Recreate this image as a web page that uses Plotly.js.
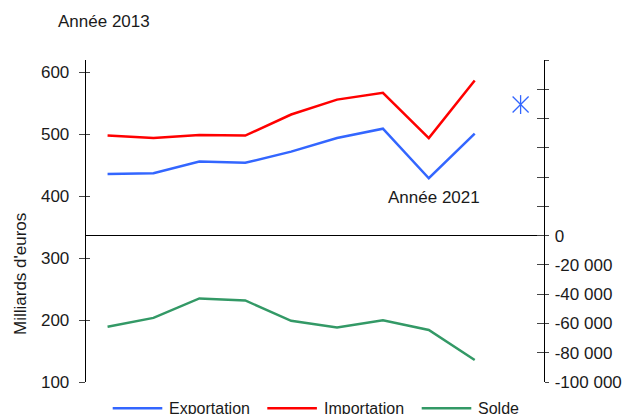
<!DOCTYPE html>
<html>
<head>
<meta charset="utf-8">
<script src="https://cdn.plot.ly/plotly-3.0.1.min.js"></script>
<style>html,body{margin:0;padding:0;background:#fff;}#chart{width:629px;height:414px;}</style>
</head>
<body>
<div id="chart"></div>
<script>
// Data
const years = [2013, 2014, 2015, 2016, 2017, 2018, 2019, 2020, 2021];
const exportation = [436, 437, 456, 454, 472, 494, 509, 429, 501];
const importation = [498, 494, 499, 498, 532, 556, 567, 494, 587];
const solde = [-62300, -56200, -42900, -44300, -58200, -62700, -57900, -64500, -85000];
const pointYear = [2022];
const pointValue = [548];
const leftTicks = [100, 200, 300, 400, 500, 600];
const rightTicks = [-100000, -80000, -60000, -40000, -20000, 0, 20000, 40000, 60000, 80000, 100000, 120000];
const rightTickText = ['-100 000', '-80 000', '-60 000', '-40 000', '-20 000', '0', '', '', '', '', '', ''];
const seriesNames = ['Exportation', 'Importation', 'Solde'];

const FONT = 'Liberation Sans, Arial, sans-serif';
const TXT = '#1a1a1a';
const BLUE = 'rgb(51,102,255)';
const RED = 'rgb(255,0,0)';
const GREEN = 'rgb(51,153,102)';
const COLORS = [BLUE, RED, GREEN];
const TICKC = '#444';

const W = 629, H = 414, ML = 86, MR = 85, MT = 60, MB = 32;
const PW = W - ML - MR, PH = H - MT - MB;
const px2x = p => (p - ML) / PW;
const px2y = p => (H - MB - p) / PH;

const traces = [
  {x: years, y: exportation, name: seriesNames[0], type: 'scatter', mode: 'lines',
   line: {color: COLORS[0], width: 2.5}, yaxis: 'y', showlegend: false},
  {x: years, y: importation, name: seriesNames[1], type: 'scatter', mode: 'lines',
   line: {color: COLORS[1], width: 2.5}, yaxis: 'y', showlegend: false},
  {x: years, y: solde, name: seriesNames[2], type: 'scatter', mode: 'lines',
   line: {color: COLORS[2], width: 2.5}, yaxis: 'y2', showlegend: false},
  {x: pointYear, y: pointValue, type: 'scatter', mode: 'markers', showlegend: false, hoverinfo: 'skip',
   marker: {symbol: 'x-thin-open', size: 16, color: BLUE, line: {color: BLUE, width: 1.3}}, yaxis: 'y'},
  {x: pointYear, y: pointValue, type: 'scatter', mode: 'markers', showlegend: false, hoverinfo: 'skip',
   marker: {symbol: 'line-ns-open', size: 13.5, color: BLUE, line: {color: BLUE, width: 1.3}}, yaxis: 'y'},
  {x: [], y: [], yaxis: 'y3', showlegend: false, hoverinfo: 'skip', type: 'scatter'},
  {x: [], y: [], yaxis: 'y4', showlegend: false, hoverinfo: 'skip', type: 'scatter'}
];

// legend drawn as shapes + annotations
const legendLineStart = [112.7, 267.3, 421.7];
const legendY = 408.3;
const shapes = [];
const annotations = [
  {text: 'Année 2021', xref: 'paper', yref: 'paper', x: px2x(433.8), y: px2y(197.5), xanchor: 'center', yanchor: 'middle',
   showarrow: false, font: {family: FONT, size: 17, color: TXT}},
  {text: "Milliards d'euros", xref: 'paper', yref: 'paper', x: px2x(20), y: px2y(274), xanchor: 'center', yanchor: 'middle',
   textangle: -90, showarrow: false, font: {family: FONT, size: 17, color: TXT}}
];
seriesNames.forEach((n, i) => {
  const x0 = legendLineStart[i];
  shapes.push({type: 'line', xref: 'paper', yref: 'paper', x0: px2x(x0), x1: px2x(x0 + 49.6),
               y0: px2y(legendY), y1: px2y(legendY), line: {color: COLORS[i], width: 2.5}});
  annotations.push({text: n, xref: 'paper', yref: 'paper', x: px2x(x0 + 54.6), y: px2y(legendY),
                    xanchor: 'left', yanchor: 'middle', showarrow: false,
                    font: {family: FONT, size: 16, color: TXT}});
});

const layout = {
  width: W, height: H,
  paper_bgcolor: '#fff', plot_bgcolor: '#fff',
  margin: {l: ML, r: MR, t: MT, b: MB, pad: 0},
  font: {family: FONT, size: 17, color: TXT},
  showlegend: false,
  title: {text: 'Année 2013', font: {family: FONT, size: 17, color: TXT},
          x: 58 / W, xanchor: 'left', xref: 'container', y: 1 - 21 / H, yanchor: 'middle', yref: 'container'},
  xaxis: {visible: false, range: [2012.53, 2022.51], fixedrange: true},
  yaxis: {range: [100, 620], tickvals: leftTicks, ticks: 'outside', ticklen: 6, tickwidth: 1, tickcolor: TICKC,
          showline: true, linecolor: '#000', linewidth: 1.3, showgrid: false, zeroline: false,
          tickfont: {family: FONT, size: 17, color: TXT}, ticklabelstandoff: 6},
  yaxis3: {range: [100, 620], tickvals: leftTicks, ticks: 'inside', ticklen: 4, tickwidth: 1, tickcolor: TICKC,
           overlaying: 'y', side: 'left', showline: false, showgrid: false, zeroline: false, showticklabels: false},
  yaxis2: {range: [-100000, 120000], tickvals: rightTicks, ticktext: rightTickText, overlaying: 'y', side: 'right',
           ticks: 'outside', ticklen: 4, tickwidth: 1, tickcolor: TICKC,
           showline: true, linecolor: '#000', linewidth: 1.3, showgrid: false,
           zeroline: true, zerolinecolor: '#000', zerolinewidth: 1.2,
           tickfont: {family: FONT, size: 17, color: TXT}, ticklabelstandoff: 2},
  yaxis4: {range: [-100000, 120000], tickvals: rightTicks, overlaying: 'y', side: 'right',
           ticks: 'inside', ticklen: 7, tickwidth: 1, tickcolor: TICKC,
           showline: false, showgrid: false, zeroline: false, showticklabels: false},
  shapes: shapes,
  annotations: annotations
};

Plotly.newPlot('chart', traces, layout, {displayModeBar: false, staticPlot: true});
</script>
</body>
</html>
